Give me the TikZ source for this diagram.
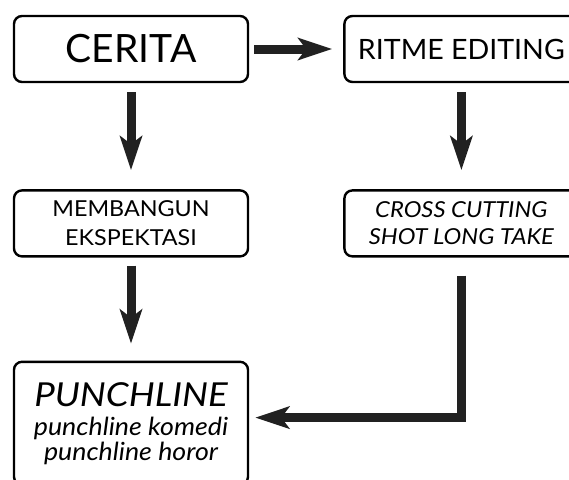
\documentclass[tikz,border=0pt]{standalone}
\usepackage{fontspec}
\setmainfont{Lato}
\usetikzlibrary{arrows.meta,positioning,calc}

\begin{document}
\begin{tikzpicture}[
  node distance=106pt and 94pt,
  box/.style={rectangle, draw, line width=2.4pt, rounded corners=8pt, align=center, minimum width=234pt, minimum height=66pt, inner sep=2pt},
  bigarrow/.style={draw, line width=9pt, color=black!87, -{Stealth[length=34pt, width=22pt, inset=8pt]}}
]

\clip (0,0) rectangle (569pt,-479pt);

\node[box, font=\fontsize{39}{44}\selectfont] (cerita) at (131pt,-49pt) {CERITA};
\node[box, right=of cerita, font=\fontsize{28}{32}\selectfont\addfontfeature{FakeStretch=1.02}] (ritme) {RITME EDITING};
\node[box, below=of cerita, font=\fontsize{22}{29}\selectfont\addfontfeature{FakeStretch=1.06}] (bangun) {MEMBANGUN\\EKSPEKTASI};
\node[box, below=of ritme, font=\fontsize{22}{27}\selectfont\itshape\addfontfeature{FakeStretch=1.08}] (cross) {CROSS CUTTING\\SHOT LONG TAKE};
\node[box, below=103pt of bangun, minimum height=123pt, font=\fontsize{25}{25}\selectfont\itshape\addfontfeature{FakeStretch=1.07}] (punch) {{\fontsize{33}{34}\selectfont\addfontfeature{FakeStretch=1.11}PUNCHLINE}\\[4pt]punchline komedi\\punchline horor};

\coordinate (bend) at ($(cross.south)+(0,-160pt)$);

\path[bigarrow, shorten <=5pt, shorten >=11pt] (cerita.east) -- (ritme.west);
\path[bigarrow, shorten <=9pt, shorten >=19pt] (cerita.south) -- (bangun.north);
\path[bigarrow, shorten <=9pt, shorten >=19pt] (ritme.south) -- (cross.north);
\path[bigarrow, shorten <=8pt, shorten >=17pt] (bangun.south) -- (punch.north);
\path[bigarrow, shorten <=18pt, shorten >=6pt] (cross.south) -- (bend) -- (bend -| punch.east);

\end{tikzpicture}
\end{document}
